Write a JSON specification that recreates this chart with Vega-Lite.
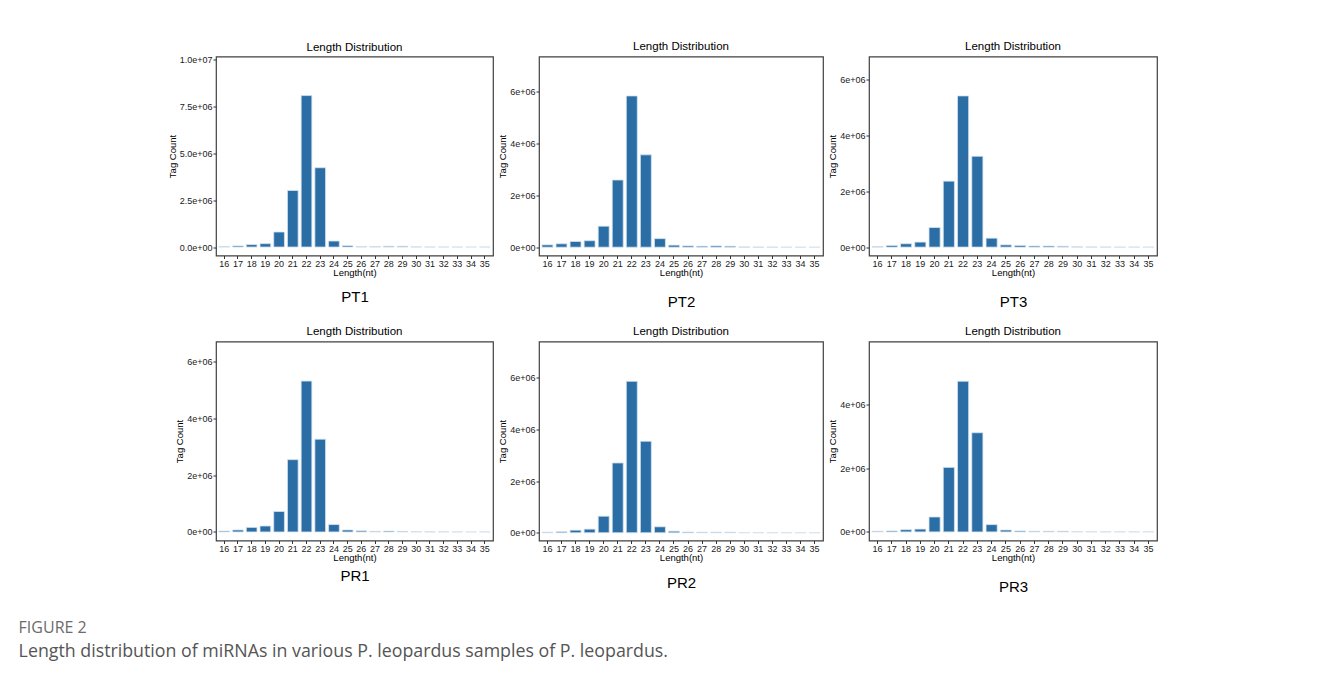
{
  "$schema": "https://vega.github.io/schema/vega-lite/v6.json",
  "data": {"values": [
    {"sample":"PT1","len":16,"count":20000},{"sample":"PT1","len":17,"count":60000},{"sample":"PT1","len":18,"count":130000},{"sample":"PT1","len":19,"count":180000},{"sample":"PT1","len":20,"count":800000},{"sample":"PT1","len":21,"count":3010000},{"sample":"PT1","len":22,"count":8060000},{"sample":"PT1","len":23,"count":4220000},{"sample":"PT1","len":24,"count":320000},{"sample":"PT1","len":25,"count":70000},{"sample":"PT1","len":26,"count":20000},{"sample":"PT1","len":27,"count":20000},{"sample":"PT1","len":28,"count":40000},{"sample":"PT1","len":29,"count":40000},{"sample":"PT1","len":30,"count":10000},{"sample":"PT1","len":31,"count":5000},{"sample":"PT1","len":32,"count":4000},{"sample":"PT1","len":33,"count":3000},{"sample":"PT1","len":34,"count":2000},{"sample":"PT1","len":35,"count":2000},
    {"sample":"PT2","len":16,"count":90000},{"sample":"PT2","len":17,"count":130000},{"sample":"PT2","len":18,"count":220000},{"sample":"PT2","len":19,"count":250000},{"sample":"PT2","len":20,"count":810000},{"sample":"PT2","len":21,"count":2590000},{"sample":"PT2","len":22,"count":5830000},{"sample":"PT2","len":23,"count":3560000},{"sample":"PT2","len":24,"count":330000},{"sample":"PT2","len":25,"count":80000},{"sample":"PT2","len":26,"count":50000},{"sample":"PT2","len":27,"count":40000},{"sample":"PT2","len":28,"count":50000},{"sample":"PT2","len":29,"count":40000},{"sample":"PT2","len":30,"count":10000},{"sample":"PT2","len":31,"count":8000},{"sample":"PT2","len":32,"count":6000},{"sample":"PT2","len":33,"count":4000},{"sample":"PT2","len":34,"count":3000},{"sample":"PT2","len":35,"count":2000},
    {"sample":"PT3","len":16,"count":20000},{"sample":"PT3","len":17,"count":60000},{"sample":"PT3","len":18,"count":120000},{"sample":"PT3","len":19,"count":180000},{"sample":"PT3","len":20,"count":700000},{"sample":"PT3","len":21,"count":2360000},{"sample":"PT3","len":22,"count":5410000},{"sample":"PT3","len":23,"count":3250000},{"sample":"PT3","len":24,"count":320000},{"sample":"PT3","len":25,"count":80000},{"sample":"PT3","len":26,"count":60000},{"sample":"PT3","len":27,"count":40000},{"sample":"PT3","len":28,"count":40000},{"sample":"PT3","len":29,"count":30000},{"sample":"PT3","len":30,"count":10000},{"sample":"PT3","len":31,"count":6000},{"sample":"PT3","len":32,"count":5000},{"sample":"PT3","len":33,"count":4000},{"sample":"PT3","len":34,"count":3000},{"sample":"PT3","len":35,"count":2000},
    {"sample":"PR1","len":16,"count":30000},{"sample":"PR1","len":17,"count":70000},{"sample":"PR1","len":18,"count":160000},{"sample":"PR1","len":19,"count":210000},{"sample":"PR1","len":20,"count":720000},{"sample":"PR1","len":21,"count":2540000},{"sample":"PR1","len":22,"count":5300000},{"sample":"PR1","len":23,"count":3260000},{"sample":"PR1","len":24,"count":260000},{"sample":"PR1","len":25,"count":70000},{"sample":"PR1","len":26,"count":40000},{"sample":"PR1","len":27,"count":20000},{"sample":"PR1","len":28,"count":30000},{"sample":"PR1","len":29,"count":20000},{"sample":"PR1","len":30,"count":5000},{"sample":"PR1","len":31,"count":4000},{"sample":"PR1","len":32,"count":3000},{"sample":"PR1","len":33,"count":3000},{"sample":"PR1","len":34,"count":2000},{"sample":"PR1","len":35,"count":2000},
    {"sample":"PR2","len":16,"count":20000},{"sample":"PR2","len":17,"count":40000},{"sample":"PR2","len":18,"count":100000},{"sample":"PR2","len":19,"count":140000},{"sample":"PR2","len":20,"count":640000},{"sample":"PR2","len":21,"count":2700000},{"sample":"PR2","len":22,"count":5860000},{"sample":"PR2","len":23,"count":3540000},{"sample":"PR2","len":24,"count":230000},{"sample":"PR2","len":25,"count":60000},{"sample":"PR2","len":26,"count":30000},{"sample":"PR2","len":27,"count":20000},{"sample":"PR2","len":28,"count":20000},{"sample":"PR2","len":29,"count":20000},{"sample":"PR2","len":30,"count":5000},{"sample":"PR2","len":31,"count":4000},{"sample":"PR2","len":32,"count":3000},{"sample":"PR2","len":33,"count":3000},{"sample":"PR2","len":34,"count":2000},{"sample":"PR2","len":35,"count":2000},
    {"sample":"PR3","len":16,"count":20000},{"sample":"PR3","len":17,"count":30000},{"sample":"PR3","len":18,"count":70000},{"sample":"PR3","len":19,"count":90000},{"sample":"PR3","len":20,"count":470000},{"sample":"PR3","len":21,"count":2030000},{"sample":"PR3","len":22,"count":4740000},{"sample":"PR3","len":23,"count":3120000},{"sample":"PR3","len":24,"count":230000},{"sample":"PR3","len":25,"count":60000},{"sample":"PR3","len":26,"count":30000},{"sample":"PR3","len":27,"count":20000},{"sample":"PR3","len":28,"count":20000},{"sample":"PR3","len":29,"count":20000},{"sample":"PR3","len":30,"count":5000},{"sample":"PR3","len":31,"count":4000},{"sample":"PR3","len":32,"count":3000},{"sample":"PR3","len":33,"count":3000},{"sample":"PR3","len":34,"count":2000},{"sample":"PR3","len":35,"count":2000}
  ]},
  "columns": 3,
  "bounds": "flush",
  "align": "each",
  "spacing": {"row": 86, "column": 46},
  "padding": {"left": 18, "top": 39.5, "right": 5, "bottom": 5},
  "title": {
    "text": "FIGURE 2",
    "subtitle": "Length distribution of miRNAs in various P. leopardus samples of P. leopardus.",
    "orient": "bottom", "anchor": "start", "frame": "bounds",
    "dx": -148, "offset": 24.5,
    "font": "Open Sans", "fontSize": 16, "fontWeight": "normal", "color": "#6b6b6b",
    "subtitleFont": "Open Sans", "subtitleFontSize": 17.8, "subtitleColor": "#555555", "subtitlePadding": 7
  },
  "concat": [
    {
      "width": 277, "height": 199,
      "title": {"text": "Length Distribution", "offset": 2},
      "transform": [{"filter": "datum.sample == 'PT1'"}],
      "layer": [
        {"mark": {"type": "bar", "color": "#2b6da5", "stroke": "#d4e3f0", "strokeWidth": 0.8},
         "encoding": {
           "x": {"field": "len", "type": "ordinal", "scale": {"paddingInner": 0.22, "paddingOuter": 0.21}, "axis": {"title": "Length(nt)", "orient": "bottom"}},
           "y": {"field": "count", "type": "quantitative", "scale": {"domain": [-450000, 10140000], "nice": false, "zero": false},
                 "axis": {"title": "Tag Count", "values": [0, 2500000, 5000000, 7500000, 10000000], "labelExpr": "datum.value == 0 ? '0.0e+00' : datum.value >= 10000000 ? '1.0e+07' : format(datum.value / 1000000, '.1f') + 'e+06'"}},
           "y2": {"datum": 0}
         }},
        {"mark": {"type": "rule", "strokeOpacity": 0},
         "encoding": {"x": {"field": "len", "type": "ordinal", "axis": {"orient": "bottom", "title": "PT1", "labels": false, "ticks": false, "offset": 34, "titlePadding": 0, "titleFontSize": 15}}}}
      ],
      "resolve": {"axis": {"x": "independent"}}
    },
    {
      "width": 284, "height": 199,
      "title": {"text": "Length Distribution"},
      "transform": [{"filter": "datum.sample == 'PT2'"}],
      "layer": [
        {"mark": {"type": "bar", "color": "#2b6da5", "stroke": "#d4e3f0", "strokeWidth": 0.8},
         "encoding": {
           "x": {"field": "len", "type": "ordinal", "scale": {"paddingInner": 0.22, "paddingOuter": 0.21}, "axis": {"title": "Length(nt)", "orient": "bottom"}},
           "y": {"field": "count", "type": "quantitative", "scale": {"domain": [-320000, 7350000], "nice": false, "zero": false},
                 "axis": {"title": "Tag Count", "values": [0, 2000000, 4000000, 6000000], "labelExpr": "datum.value == 0 ? '0e+00' : format(datum.value / 1000000, 'd') + 'e+06'"}},
           "y2": {"datum": 0}
         }},
        {"mark": {"type": "rule", "strokeOpacity": 0},
         "encoding": {"x": {"field": "len", "type": "ordinal", "axis": {"orient": "bottom", "title": "PT2", "labels": false, "ticks": false, "offset": 39, "titlePadding": 0, "titleFontSize": 15}}}}
      ],
      "resolve": {"axis": {"x": "independent"}}
    },
    {
      "width": 288, "height": 199,
      "title": {"text": "Length Distribution"},
      "transform": [{"filter": "datum.sample == 'PT3'"}],
      "layer": [
        {"mark": {"type": "bar", "color": "#2b6da5", "stroke": "#d4e3f0", "strokeWidth": 0.8},
         "encoding": {
           "x": {"field": "len", "type": "ordinal", "scale": {"paddingInner": 0.22, "paddingOuter": 0.21}, "axis": {"title": "Length(nt)", "orient": "bottom"}},
           "y": {"field": "count", "type": "quantitative", "scale": {"domain": [-300000, 6820000], "nice": false, "zero": false},
                 "axis": {"title": "Tag Count", "values": [0, 2000000, 4000000, 6000000], "labelExpr": "datum.value == 0 ? '0e+00' : format(datum.value / 1000000, 'd') + 'e+06'"}},
           "y2": {"datum": 0}
         }},
        {"mark": {"type": "rule", "strokeOpacity": 0},
         "encoding": {"x": {"field": "len", "type": "ordinal", "axis": {"orient": "bottom", "title": "PT3", "labels": false, "ticks": false, "offset": 39, "titlePadding": 0, "titleFontSize": 15}}}}
      ],
      "resolve": {"axis": {"x": "independent"}}
    },
    {
      "width": 277, "height": 199,
      "title": {"text": "Length Distribution"},
      "transform": [{"filter": "datum.sample == 'PR1'"}],
      "layer": [
        {"mark": {"type": "bar", "color": "#2b6da5", "stroke": "#d4e3f0", "strokeWidth": 0.8},
         "encoding": {
           "x": {"field": "len", "type": "ordinal", "scale": {"paddingInner": 0.22, "paddingOuter": 0.21}, "axis": {"title": "Length(nt)", "orient": "bottom"}},
           "y": {"field": "count", "type": "quantitative", "scale": {"domain": [-300000, 6690000], "nice": false, "zero": false},
                 "axis": {"title": "Tag Count", "values": [0, 2000000, 4000000, 6000000], "labelExpr": "datum.value == 0 ? '0e+00' : format(datum.value / 1000000, 'd') + 'e+06'"}},
           "y2": {"datum": 0}
         }},
        {"mark": {"type": "rule", "strokeOpacity": 0},
         "encoding": {"x": {"field": "len", "type": "ordinal", "axis": {"orient": "bottom", "title": "PR1", "labels": false, "ticks": false, "offset": 28, "titlePadding": 0, "titleFontSize": 15}}}}
      ],
      "resolve": {"axis": {"x": "independent"}}
    },
    {
      "width": 284, "height": 199,
      "title": {"text": "Length Distribution"},
      "transform": [{"filter": "datum.sample == 'PR2'"}],
      "layer": [
        {"mark": {"type": "bar", "color": "#2b6da5", "stroke": "#d4e3f0", "strokeWidth": 0.8},
         "encoding": {
           "x": {"field": "len", "type": "ordinal", "scale": {"paddingInner": 0.22, "paddingOuter": 0.21}, "axis": {"title": "Length(nt)", "orient": "bottom"}},
           "y": {"field": "count", "type": "quantitative", "scale": {"domain": [-300000, 7400000], "nice": false, "zero": false},
                 "axis": {"title": "Tag Count", "values": [0, 2000000, 4000000, 6000000], "labelExpr": "datum.value == 0 ? '0e+00' : format(datum.value / 1000000, 'd') + 'e+06'"}},
           "y2": {"datum": 0}
         }},
        {"mark": {"type": "rule", "strokeOpacity": 0},
         "encoding": {"x": {"field": "len", "type": "ordinal", "axis": {"orient": "bottom", "title": "PR2", "labels": false, "ticks": false, "offset": 35, "titlePadding": 0, "titleFontSize": 15}}}}
      ],
      "resolve": {"axis": {"x": "independent"}}
    },
    {
      "width": 288, "height": 199,
      "title": {"text": "Length Distribution"},
      "transform": [{"filter": "datum.sample == 'PR3'"}],
      "layer": [
        {"mark": {"type": "bar", "color": "#2b6da5", "stroke": "#d4e3f0", "strokeWidth": 0.8},
         "encoding": {
           "x": {"field": "len", "type": "ordinal", "scale": {"paddingInner": 0.22, "paddingOuter": 0.21}, "axis": {"title": "Length(nt)", "orient": "bottom"}},
           "y": {"field": "count", "type": "quantitative", "scale": {"domain": [-270000, 5990000], "nice": false, "zero": false},
                 "axis": {"title": "Tag Count", "values": [0, 2000000, 4000000], "labelExpr": "datum.value == 0 ? '0e+00' : format(datum.value / 1000000, 'd') + 'e+06'"}},
           "y2": {"datum": 0}
         }},
        {"mark": {"type": "rule", "strokeOpacity": 0},
         "encoding": {"x": {"field": "len", "type": "ordinal", "axis": {"orient": "bottom", "title": "PR3", "labels": false, "ticks": false, "offset": 39, "titlePadding": 0, "titleFontSize": 15}}}}
      ],
      "resolve": {"axis": {"x": "independent"}}
    }
  ],
  "config": {
    "font": "Liberation Sans",
    "view": {"stroke": "#404040", "strokeWidth": 1.2},
    "axis": {"domain": false, "grid": false, "tickColor": "#333333", "tickSize": 3, "labelColor": "#1a1a1a", "labelFontSize": 9, "titleFontSize": 9.5, "titleFontWeight": "normal", "titleColor": "#000000"},
    "axisY": {"labelPadding": 1, "titlePadding": 2},
    "axisX": {"labelPadding": 1, "titlePadding": -1, "labelAngle": 0},
    "title": {"fontSize": 11.5, "fontWeight": "normal", "offset": 4, "color": "#000000", "frame": "group"}
  }
}
